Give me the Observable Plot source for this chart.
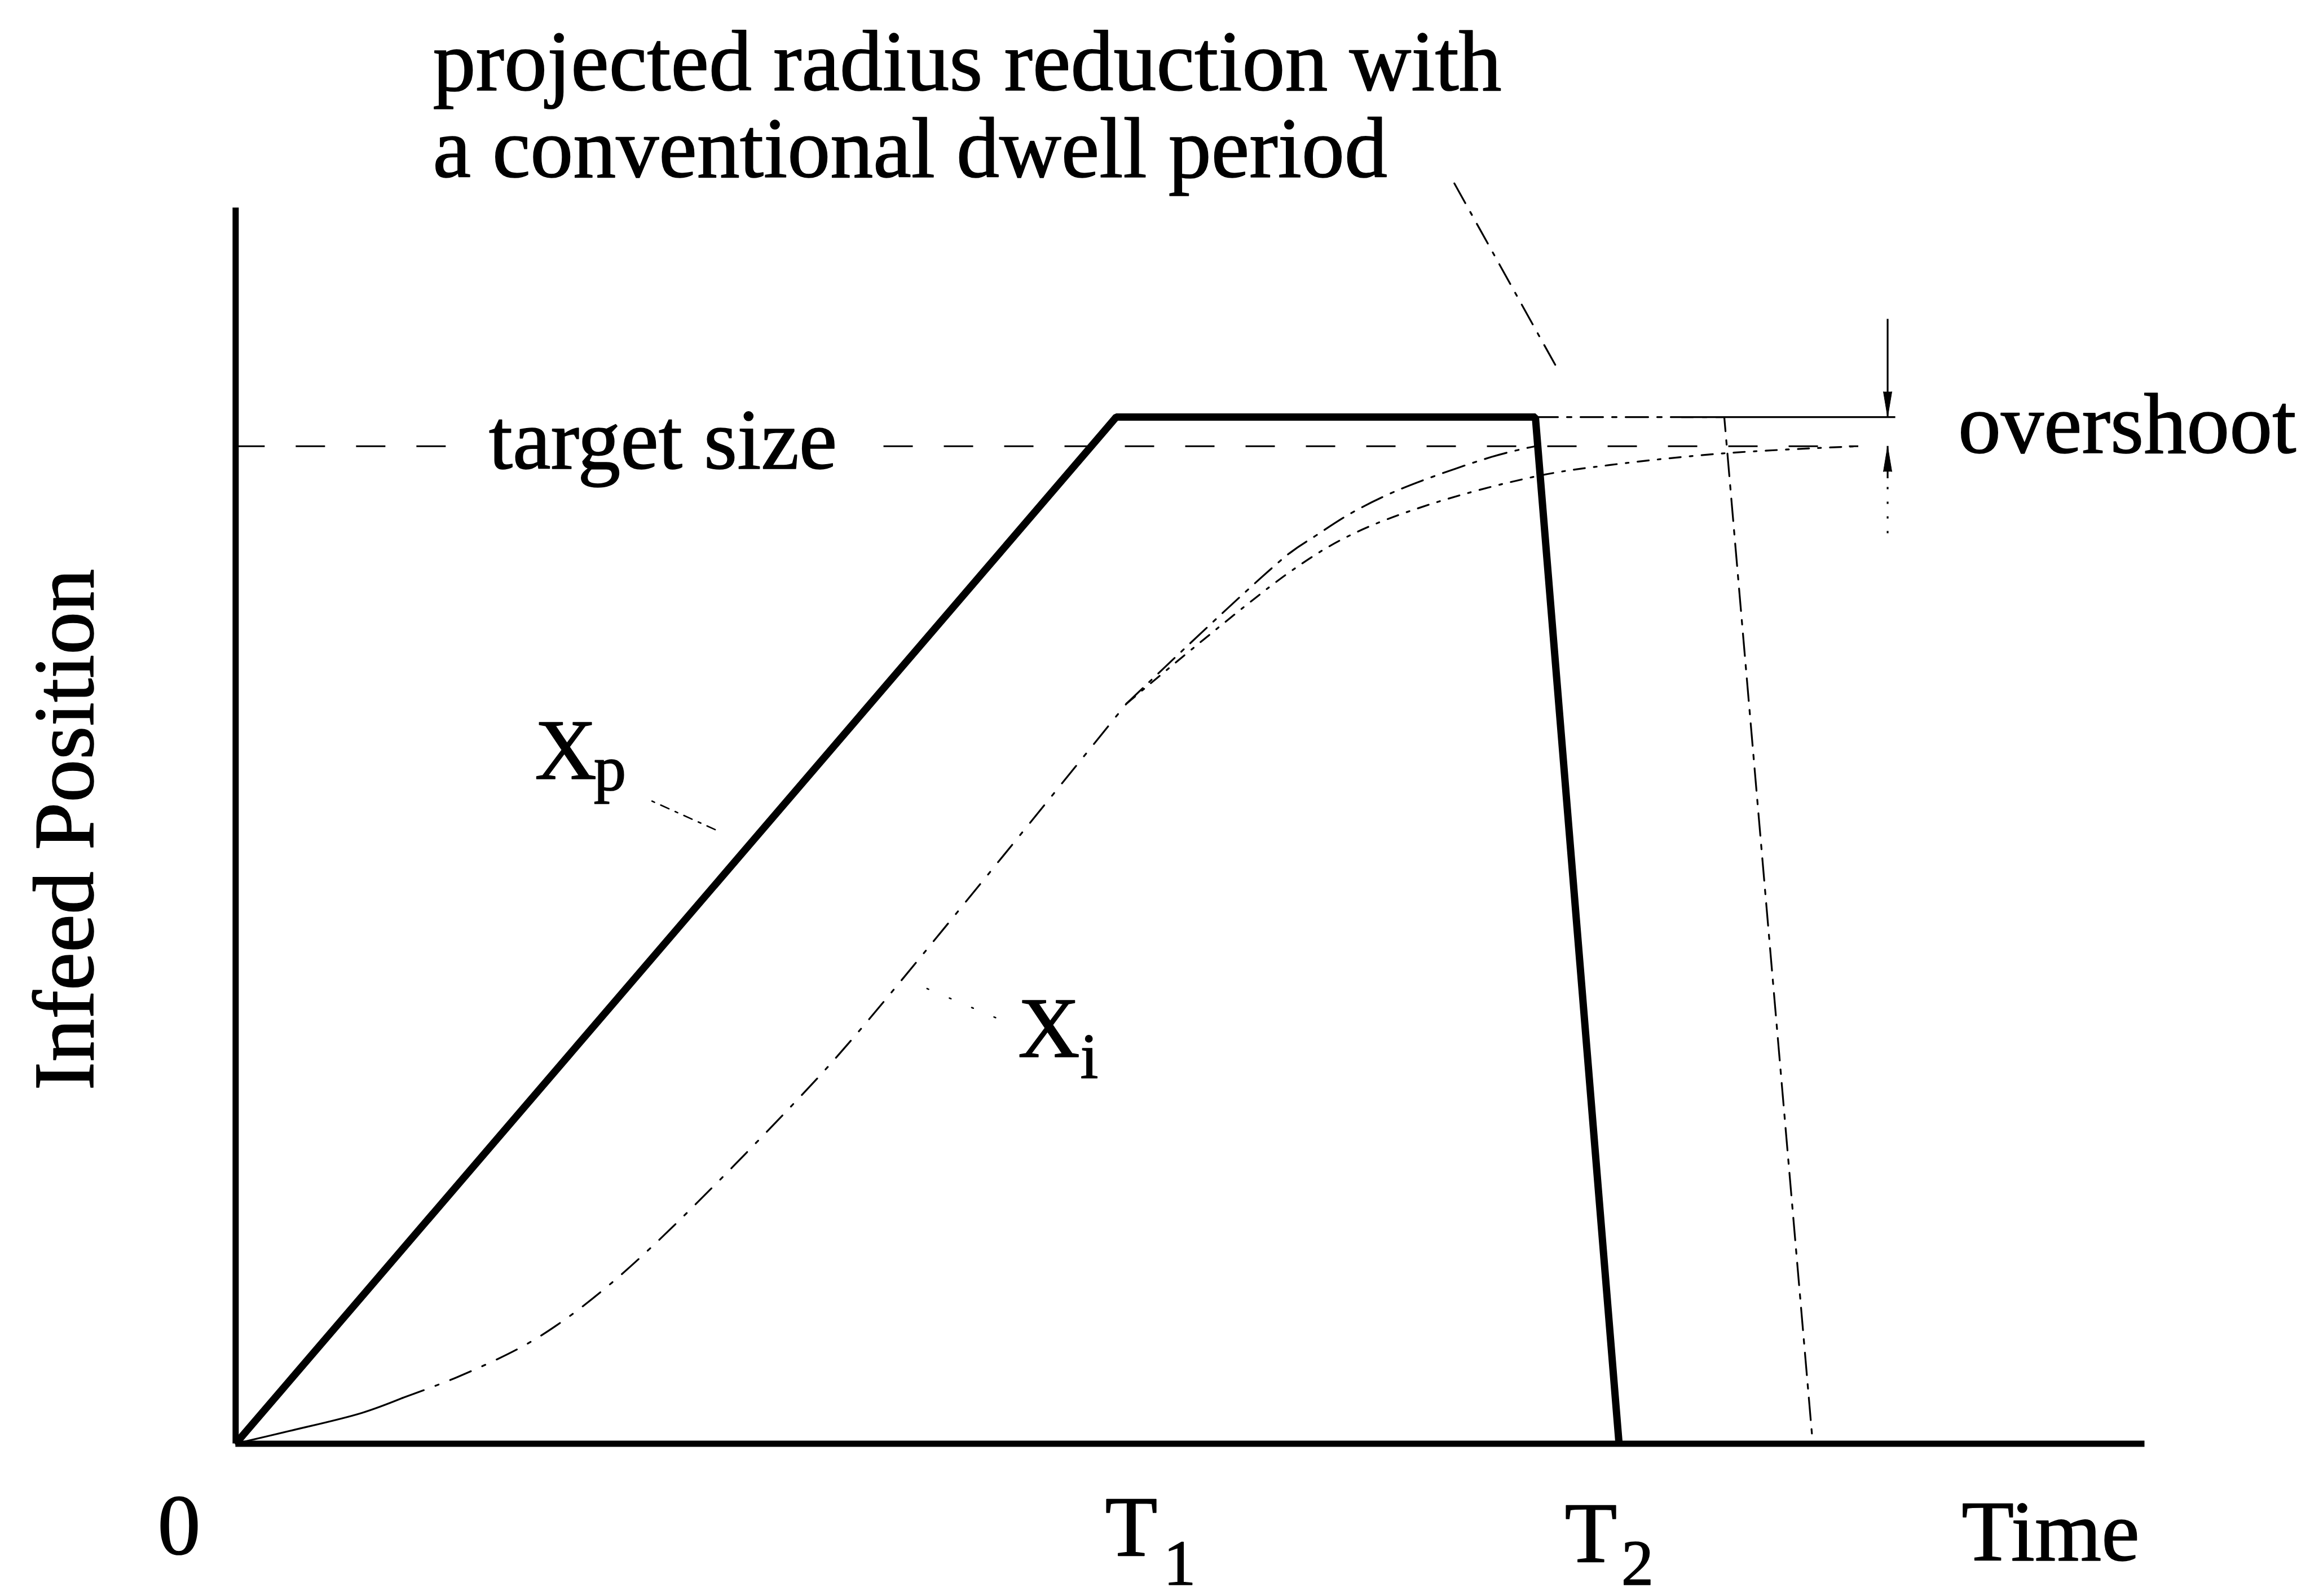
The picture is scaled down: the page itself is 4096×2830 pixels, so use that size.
<!DOCTYPE html>
<html>
<head>
<meta charset="utf-8">
<script src="https://cdn.jsdelivr.net/npm/d3@7"></script>
<script src="https://cdn.jsdelivr.net/npm/@observablehq/plot@0.6"></script>
<style>
  html, body { margin: 0; padding: 0; background: #fff; }
  #chart svg { display: block; }
</style>
</head>
<body>
<div id="chart"></div>
<script>
// Time in arbitrary units (T1 = 10); infeed position in % of the target size.
const T1 = 10;
const T2 = 15.71;
const dwellEnd = 14.76;
const targetSize = 100;
const plateau = 102.92;

// Axis extents
const axisTime = [0, 21.68];
const axisPos = [0, 123.9];

// Programmed infeed Xp: ramp to T1, dwell, retract by T2
const xpTime = [0, T1, dwellEnd, T2];
const xpPos = [0, plateau, plateau, 0];

// Actual infeed Xi along the ramp
const xiEarlyTime = [0, 0.6, 1.431, 1.896];
const xiEarlyPos = [0, 1.25, 3.08, 4.59];
const xiTime = [1.896, 2.508, 3.229, 3.651, 4.2, 4.9, 6.404, 7.058, 10.116];
const xiPos = [4.59, 6.64, 9.61, 11.9, 15.6, 21.2, 34.72, 41.14, 74.19];
// Xi settling on the target by T2
const xiFastTime = [10.116, 11.95, 12.257, 12.66, 13.07, 13.47, 14.26, 14.64, 14.76];
const xiFastPos = [74.19, 89.15, 90.98, 93.25, 95.09, 96.54, 98.92, 99.78, 100];
// Xi under a conventional dwell
const xiDwellTime = [10.116, 11.95, 12.66, 13.58, 14.795, 15.6, 16.92, 18.43];
const xiDwellPos = [74.19, 87.26, 91.09, 94.22, 97.03, 98.11, 99.3, 100];

// Projected infeed with a conventional dwell period
const dwellTime = [dwellEnd, 16.905, 17.91];
const dwellPos = [plateau, plateau, 0];

// Target size line, broken around its label
const targetSpans = [[0, 2.587], [7.36, 18.43]];

// Overshoot marker
const overshootTime = 18.76;
const overshootRef = [16.42, 18.85];
const overshootStemTop = 112.74;
const overshootStemLow = 96.76;
const overshootTail = 91.25;

// Leader lines [t0, p0, t1, p1]
const titleLeader = [13.84, 126.35, 15.03, 107.45];
const xpLeader = [4.728, 64.42, 5.462, 61.5];
const xiLeader = [8.63, 42.71, 7.664, 46.33];

// Text labels
const title = {text: "projected radius reduction with\na conventional dwell period", t: 2.239, p: 127.0};
const yLabel = {text: "Infeed Position", t: -1.621, p: 61.56};
const startLabels = [
  {text: "target size", t: 2.875, p: 97.73},
  {text: "overshoot", t: 19.56, p: 99.35}
];
const tickLabels = [
  {text: "0", t: -0.642, p: -11.07},
  {text: "T", t: 10.17, p: -11.23},
  {text: "T", t: 15.39, p: -11.88},
  {text: "Time", t: 20.61, p: -11.72},
  {text: "X", t: 3.749, p: 66.68},
  {text: "X", t: 9.235, p: 38.77}
];
const subLabels = [
  {text: "1", t: 10.72, p: -14.15},
  {text: "2", t: 15.92, p: -14.15},
  {text: "p", t: 4.251, p: 65.5},
  {text: "i", t: 9.694, p: 36.61}
];

const serif = "'Liberation Serif', 'Times New Roman', Times, serif";
const pts = (ts, ps) => ts.map((t, i) => ({t, p: ps[i]}));
const seg = ([t0, p0, t1, p1]) => [{t: t0, p: p0}, {t: t1, p: p1}];

const fontMain = 152;
const fontSub = 115;
const thin = 3.2;
const ink = {fill: "black", stroke: "black", strokeWidth: 1.6, fontFamily: serif};

const chart = Plot.plot({
  width: 4096,
  height: 2830,
  x: {domain: [0, T1], range: [417.34, 1978.76], axis: null},
  y: {domain: [0, targetSize], range: [2559.4, 790.74], axis: null},
  style: {background: "#fff", fontFamily: serif, overflow: "visible"},
  marks: [
    // target size (dashed)
    Plot.ruleY(targetSpans.map(([t1, t2]) => ({t1, t2, p: targetSize})), {
      y: "p", x1: "t1", x2: "t2", strokeWidth: thin, strokeDasharray: "52,55"
    }),
    // Xi curves
    Plot.line(pts(xiEarlyTime, xiEarlyPos), {x: "t", y: "p", strokeWidth: thin, curve: "catmull-rom"}),
    Plot.line(pts(xiTime, xiPos), {x: "t", y: "p", strokeWidth: thin, curve: "catmull-rom", strokeDasharray: "40,22,6,22"}),
    Plot.line(pts(xiFastTime, xiFastPos), {x: "t", y: "p", strokeWidth: thin, curve: "catmull-rom", strokeDasharray: "40,16,6,16"}),
    Plot.line(pts(xiDwellTime, xiDwellPos), {x: "t", y: "p", strokeWidth: thin, curve: "catmull-rom", strokeDasharray: "20,16,5,16"}),
    // conventional dwell projection
    Plot.line(pts(dwellTime, dwellPos), {x: "t", y: "p", strokeWidth: thin, strokeDasharray: "40,16,8,16", strokeLinejoin: "miter"}),
    // overshoot reference and arrows
    Plot.ruleY([{t1: overshootRef[0], t2: overshootRef[1], p: plateau}], {y: "p", x1: "t1", x2: "t2", strokeWidth: thin}),
    Plot.ruleX([{t: overshootTime, p1: overshootStemTop, p2: plateau}], {x: "t", y1: "p1", y2: "p2", strokeWidth: thin}),
    Plot.ruleX([{t: overshootTime, p1: overshootStemLow, p2: targetSize}], {x: "t", y1: "p1", y2: "p2", strokeWidth: thin}),
    Plot.ruleX([{t: overshootTime, p1: overshootTail, p2: overshootStemLow}], {x: "t", y1: "p1", y2: "p2", strokeWidth: thin, strokeDasharray: "4,22"}),
    Plot.vector([{t: overshootTime, p: plateau}], {
      x: "t", y: "p", length: 45, rotate: 180, anchor: "end", shape: "spike", r: 7.5,
      fill: "black", fillOpacity: 1, stroke: "black", strokeWidth: 1
    }),
    Plot.vector([{t: overshootTime, p: targetSize}], {
      x: "t", y: "p", length: 45, rotate: 0, anchor: "end", shape: "spike", r: 7.5,
      fill: "black", fillOpacity: 1, stroke: "black", strokeWidth: 1
    }),
    // leaders
    Plot.line(seg(titleLeader), {x: "t", y: "p", strokeWidth: thin, strokeDasharray: "40,18,6,18"}),
    Plot.line(seg(xpLeader), {x: "t", y: "p", strokeWidth: 2.6, strokeDasharray: "5,12,16,12"}),
    Plot.line(seg(xiLeader), {x: "t", y: "p", strokeWidth: 2.6, strokeDasharray: "3,40"}),
    // axes
    Plot.ruleY([{p: 0, t1: axisTime[0], t2: axisTime[1]}], {y: "p", x1: "t1", x2: "t2", strokeWidth: 11}),
    Plot.ruleX([{t: 0, p1: axisPos[0], p2: axisPos[1]}], {x: "t", y1: "p1", y2: "p2", strokeWidth: 11}),
    // programmed infeed Xp
    Plot.line(pts(xpTime, xpPos), {x: "t", y: "p", strokeWidth: 13, strokeLinejoin: "miter", strokeLinecap: "butt"}),
    // text
    Plot.text([title], {
      x: "t", y: "p", text: "text", textAnchor: "start", lineAnchor: "bottom",
      lineHeight: 1.013, fontSize: fontMain, ...ink
    }),
    Plot.text([yLabel], {
      x: "t", y: "p", text: "text", textAnchor: "middle", lineAnchor: "bottom",
      rotate: -90, fontSize: fontMain, ...ink
    }),
    Plot.text(startLabels, {
      x: "t", y: "p", text: "text", textAnchor: "start", lineAnchor: "bottom",
      fontSize: fontMain, ...ink
    }),
    Plot.text(tickLabels, {
      x: "t", y: "p", text: "text", textAnchor: "middle", lineAnchor: "bottom",
      fontSize: fontMain, ...ink
    }),
    Plot.text(subLabels, {
      x: "t", y: "p", text: "text", textAnchor: "middle", lineAnchor: "bottom",
      fontSize: fontSub, ...ink
    })
  ]
});

document.getElementById("chart").appendChild(chart);
</script>
</body>
</html>
